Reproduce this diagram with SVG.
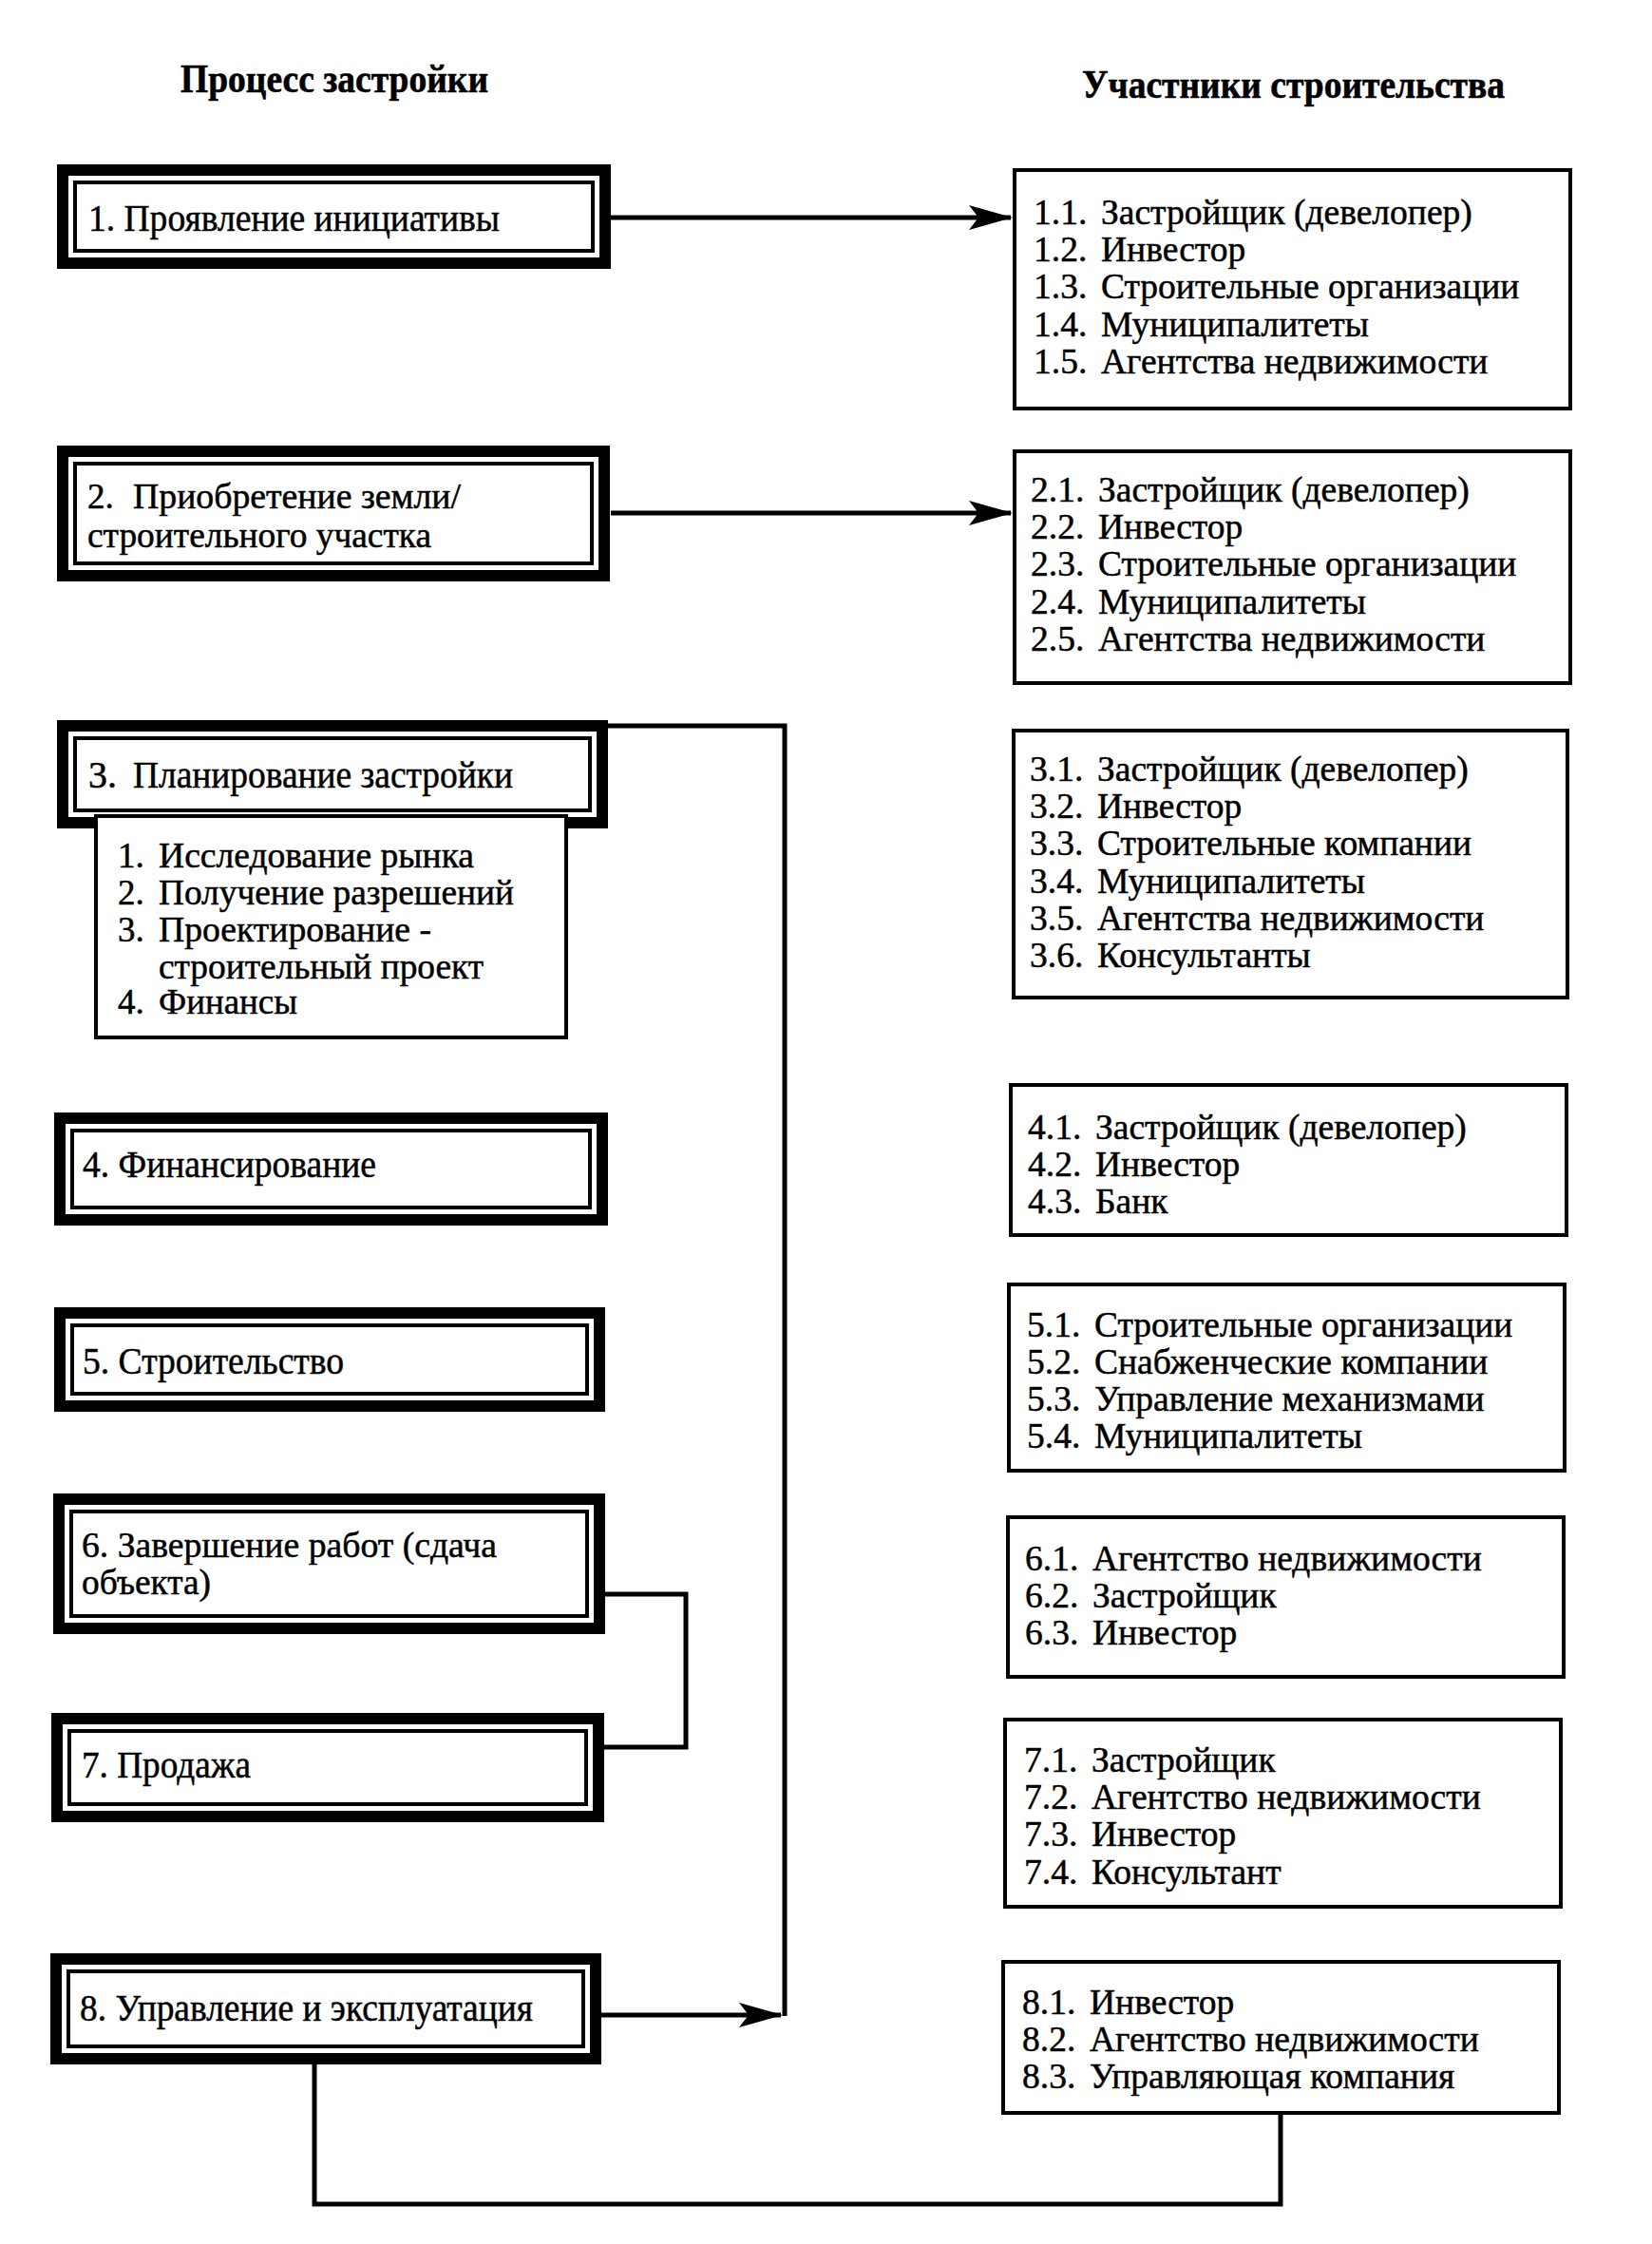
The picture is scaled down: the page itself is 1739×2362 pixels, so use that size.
<svg xmlns="http://www.w3.org/2000/svg" width="1739" height="2362" viewBox="0 0 1739 2362">
<style>
.bg{fill:#fff}
.outer{fill:#fff;stroke:#000;stroke-width:12}
.inner{fill:none;stroke:#000;stroke-width:4}
.rbox{fill:#fff;stroke:#000;stroke-width:4}
.lt{font-family:"Liberation Serif","Times New Roman",serif;font-size:40px;fill:#000;stroke:#000;stroke-width:0.5}
.lm{font-family:"Liberation Serif","Times New Roman",serif;font-size:37px;fill:#000;stroke:#000;stroke-width:0.5}
.rt{font-family:"Liberation Serif","Times New Roman",serif;font-size:37.5px;fill:#000;stroke:#000;stroke-width:0.5}
.hd{font-family:"Liberation Serif","Times New Roman",serif;font-size:42px;font-weight:bold;fill:#000;stroke:#000;stroke-width:0.6}
.conn{fill:none;stroke:#000;stroke-width:5;stroke-linejoin:miter}
</style>
<defs>
<marker id="arr" viewBox="0 0 46 28" refX="44" refY="14" markerWidth="46" markerHeight="28" markerUnits="userSpaceOnUse" orient="auto">
<path d="M0,1 L46,14 L0,27 L10,14 Z" fill="#000"/>
</marker>
</defs>
<rect class="bg" x="0" y="0" width="1739" height="2362"/>

<g id="headers">
<text class="hd" x="190" y="97" textLength="324" lengthAdjust="spacingAndGlyphs">Процесс застройки</text>
<text class="hd" x="1139" y="103" textLength="445" lengthAdjust="spacingAndGlyphs">Участники строительства</text>
</g>

<g id="connectors">
<line class="conn" x1="643" y1="229" x2="1064" y2="229" marker-end="url(#arr)"/>
<line class="conn" x1="643" y1="540" x2="1064" y2="540" marker-end="url(#arr)"/>
<polyline class="conn" points="630,764 826,764 826,2122"/>
<line class="conn" x1="633" y1="2121" x2="822" y2="2121" marker-end="url(#arr)"/>
<polyline class="conn" points="636,1678 722,1678 722,1839 636,1839"/>
<polyline class="conn" points="331,2173 331,2320 1348,2320 1348,2224"/>
</g>

<g id="node1">
<rect class="outer" x="66" y="179" width="571" height="98"/>
<rect class="inner" x="79" y="192" width="545" height="72"/>
<text class="lt" x="93" y="243" textLength="433" lengthAdjust="spacingAndGlyphs">1. Проявление инициативы</text>
</g>

<g id="node2">
<rect class="outer" x="66" y="475" width="570" height="131"/>
<rect class="inner" x="79" y="488" width="544" height="105"/>
<text class="lm" x="92" y="535">2.</text>
<text class="lm" x="140" y="535" textLength="345" lengthAdjust="spacingAndGlyphs">Приобретение земли/</text>
<text class="lm" x="92" y="576" textLength="362" lengthAdjust="spacingAndGlyphs">строительного участка</text>
</g>

<g id="node3">
<rect class="outer" x="66" y="764" width="568" height="102"/>
<rect class="inner" x="79" y="777" width="542" height="76"/>
<text class="lt" x="93" y="829">3.</text>
<text class="lt" x="140" y="829" textLength="400" lengthAdjust="spacingAndGlyphs">Планирование застройки</text>
<rect class="rbox" x="101" y="859" width="495" height="233"/>
<text class="lm" x="124" y="913">1.</text>
<text class="lm" x="167" y="913" textLength="332" lengthAdjust="spacingAndGlyphs">Исследование рынка</text>
<text class="lm" x="124" y="952">2.</text>
<text class="lm" x="167" y="952" textLength="374" lengthAdjust="spacingAndGlyphs">Получение разрешений</text>
<text class="lm" x="124" y="991">3.</text>
<text class="lm" x="167" y="991" textLength="287" lengthAdjust="spacingAndGlyphs">Проектирование -</text>
<text class="lm" x="167" y="1030" textLength="342" lengthAdjust="spacingAndGlyphs">строительный проект</text>
<text class="lm" x="124" y="1067">4.</text>
<text class="lm" x="167" y="1067" textLength="146" lengthAdjust="spacingAndGlyphs">Финансы</text>
</g>

<g id="node4">
<rect class="outer" x="63" y="1177" width="571" height="107"/>
<rect class="inner" x="76" y="1190" width="545" height="81"/>
<text class="lt" x="87" y="1239" textLength="309" lengthAdjust="spacingAndGlyphs">4. Финансирование</text>
</g>

<g id="node5">
<rect class="outer" x="63" y="1382" width="568" height="98"/>
<rect class="inner" x="76" y="1395" width="542" height="72"/>
<text class="lt" x="87" y="1446" textLength="275" lengthAdjust="spacingAndGlyphs">5. Строительство</text>
</g>

<g id="node6">
<rect class="outer" x="62" y="1578" width="569" height="136"/>
<rect class="inner" x="75" y="1591" width="543" height="110"/>
<text class="lm" x="86" y="1639" textLength="437" lengthAdjust="spacingAndGlyphs">6. Завершение работ (сдача</text>
<text class="lm" x="86" y="1678" textLength="136" lengthAdjust="spacingAndGlyphs">объекта)</text>
</g>

<g id="node7">
<rect class="outer" x="60" y="1809" width="570" height="103"/>
<rect class="inner" x="73" y="1822" width="544" height="77"/>
<text class="lt" x="86" y="1871" textLength="178" lengthAdjust="spacingAndGlyphs">7. Продажа</text>
</g>

<g id="node8">
<rect class="outer" x="59" y="2062" width="568" height="105"/>
<rect class="inner" x="72" y="2075" width="542" height="79"/>
<text class="lt" x="84" y="2127" textLength="477" lengthAdjust="spacingAndGlyphs">8. Управление и эксплуатация</text>
</g>

<g id="r1">
<rect class="rbox" x="1068" y="179" width="585" height="251"/>
<text class="rt" x="1088" y="236">1.1.</text><text class="rt" x="1159" y="236">Застройщик (девелопер)</text>
<text class="rt" x="1088" y="275">1.2.</text><text class="rt" x="1159" y="275">Инвестор</text>
<text class="rt" x="1088" y="314">1.3.</text><text class="rt" x="1159" y="314">Строительные организации</text>
<text class="rt" x="1088" y="354">1.4.</text><text class="rt" x="1159" y="354">Муниципалитеты</text>
<text class="rt" x="1088" y="393">1.5.</text><text class="rt" x="1159" y="393">Агентства недвижимости</text>
</g>

<g id="r2">
<rect class="rbox" x="1068" y="475" width="585" height="244"/>
<text class="rt" x="1085" y="528">2.1.</text><text class="rt" x="1156" y="528">Застройщик (девелопер)</text>
<text class="rt" x="1085" y="567">2.2.</text><text class="rt" x="1156" y="567">Инвестор</text>
<text class="rt" x="1085" y="606">2.3.</text><text class="rt" x="1156" y="606">Строительные организации</text>
<text class="rt" x="1085" y="646">2.4.</text><text class="rt" x="1156" y="646">Муниципалитеты</text>
<text class="rt" x="1085" y="685">2.5.</text><text class="rt" x="1156" y="685">Агентства недвижимости</text>
</g>

<g id="r3">
<rect class="rbox" x="1067" y="769" width="583" height="281"/>
<text class="rt" x="1084" y="822">3.1.</text><text class="rt" x="1155" y="822">Застройщик (девелопер)</text>
<text class="rt" x="1084" y="861">3.2.</text><text class="rt" x="1155" y="861">Инвестор</text>
<text class="rt" x="1084" y="900">3.3.</text><text class="rt" x="1155" y="900">Строительные компании</text>
<text class="rt" x="1084" y="940">3.4.</text><text class="rt" x="1155" y="940">Муниципалитеты</text>
<text class="rt" x="1084" y="979">3.5.</text><text class="rt" x="1155" y="979">Агентства недвижимости</text>
<text class="rt" x="1084" y="1018">3.6.</text><text class="rt" x="1155" y="1018">Консультанты</text>
</g>

<g id="r4">
<rect class="rbox" x="1064" y="1142" width="585" height="158"/>
<text class="rt" x="1082" y="1199">4.1.</text><text class="rt" x="1153" y="1199">Застройщик (девелопер)</text>
<text class="rt" x="1082" y="1238">4.2.</text><text class="rt" x="1153" y="1238">Инвестор</text>
<text class="rt" x="1082" y="1277">4.3.</text><text class="rt" x="1153" y="1277">Банк</text>
</g>

<g id="r5">
<rect class="rbox" x="1062" y="1352" width="585" height="196"/>
<text class="rt" x="1081" y="1407">5.1.</text><text class="rt" x="1152" y="1407">Строительные организации</text>
<text class="rt" x="1081" y="1446">5.2.</text><text class="rt" x="1152" y="1446">Снабженческие компании</text>
<text class="rt" x="1081" y="1485">5.3.</text><text class="rt" x="1152" y="1485">Управление механизмами</text>
<text class="rt" x="1081" y="1524">5.4.</text><text class="rt" x="1152" y="1524">Муниципалитеты</text>
</g>

<g id="r6">
<rect class="rbox" x="1061" y="1597" width="585" height="168"/>
<text class="rt" x="1079" y="1653">6.1.</text><text class="rt" x="1150" y="1653">Агентство недвижимости</text>
<text class="rt" x="1079" y="1692">6.2.</text><text class="rt" x="1150" y="1692">Застройщик</text>
<text class="rt" x="1079" y="1731">6.3.</text><text class="rt" x="1150" y="1731">Инвестор</text>
</g>

<g id="r7">
<rect class="rbox" x="1058" y="1810" width="585" height="197"/>
<text class="rt" x="1078" y="1865">7.1.</text><text class="rt" x="1149" y="1865">Застройщик</text>
<text class="rt" x="1078" y="1904">7.2.</text><text class="rt" x="1149" y="1904">Агентство недвижимости</text>
<text class="rt" x="1078" y="1943">7.3.</text><text class="rt" x="1149" y="1943">Инвестор</text>
<text class="rt" x="1078" y="1983">7.4.</text><text class="rt" x="1149" y="1983">Консультант</text>
</g>

<g id="r8">
<rect class="rbox" x="1056" y="2065" width="585" height="159"/>
<text class="rt" x="1076" y="2120">8.1.</text><text class="rt" x="1147" y="2120">Инвестор</text>
<text class="rt" x="1076" y="2159">8.2.</text><text class="rt" x="1147" y="2159">Агентство недвижимости</text>
<text class="rt" x="1076" y="2198">8.3.</text><text class="rt" x="1147" y="2198">Управляющая компания</text>
</g>
</svg>
